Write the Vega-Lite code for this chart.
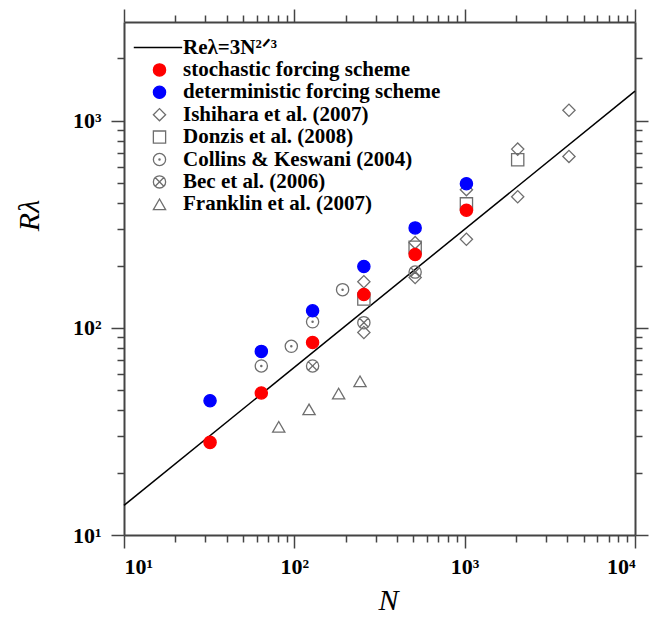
{
  "$schema": "https://vega.github.io/schema/vega-lite/v6.json",
  "width": 511,
  "height": 513,
  "autosize": "none",
  "padding": {"left": 124, "top": 22, "right": 19, "bottom": 83},
  "background": "white",
  "config": {
    "view": {"stroke": null},
    "axis": {
      "grid": false,
      "domainColor": "#444444",
      "domainWidth": 2,
      "tickColor": "#444444",
      "tickWidth": 1.5,
      "labelFont": "Liberation Serif",
      "labelFontWeight": "bold",
      "labelFontSize": 22,
      "labelColor": "black",
      "titleFont": "Liberation Serif",
      "titleFontStyle": "italic",
      "titleFontWeight": "normal",
      "titleFontSize": 30,
      "titleColor": "black"
    },
    "legend": {"labelLimit": 400}
  },
  "data": {
    "values": [
      {"series": "Reλ=3N²ᐟ³", "N": 10, "R": 13.9},
      {"series": "Reλ=3N²ᐟ³", "N": 10000, "R": 1390},
      {"series": "Ishihara et al. (2007)", "N": 256, "R": 167},
      {"series": "Ishihara et al. (2007)", "N": 256, "R": 95},
      {"series": "Ishihara et al. (2007)", "N": 512, "R": 258},
      {"series": "Ishihara et al. (2007)", "N": 512, "R": 175},
      {"series": "Ishihara et al. (2007)", "N": 1024, "R": 465},
      {"series": "Ishihara et al. (2007)", "N": 1024, "R": 268},
      {"series": "Ishihara et al. (2007)", "N": 2048, "R": 730},
      {"series": "Ishihara et al. (2007)", "N": 2048, "R": 430},
      {"series": "Ishihara et al. (2007)", "N": 4096, "R": 1125},
      {"series": "Ishihara et al. (2007)", "N": 4096, "R": 673},
      {"series": "Donzis et al. (2008)", "N": 256, "R": 138},
      {"series": "Donzis et al. (2008)", "N": 512, "R": 245},
      {"series": "Donzis et al. (2008)", "N": 1024, "R": 397},
      {"series": "Donzis et al. (2008)", "N": 2048, "R": 648},
      {"series": "Collins & Keswani (2004)", "N": 64, "R": 65.5},
      {"series": "Collins & Keswani (2004)", "N": 96, "R": 81.5},
      {"series": "Collins & Keswani (2004)", "N": 128, "R": 107},
      {"series": "Collins & Keswani (2004)", "N": 192, "R": 153},
      {"series": "Bec et al. (2006)", "N": 128, "R": 65.5},
      {"series": "Bec et al. (2006)", "N": 256, "R": 106},
      {"series": "Bec et al. (2006)", "N": 512, "R": 186},
      {"series": "Franklin et al. (2007)", "N": 81, "R": 33.3},
      {"series": "Franklin et al. (2007)", "N": 122, "R": 40.4},
      {"series": "Franklin et al. (2007)", "N": 182, "R": 48.2},
      {"series": "Franklin et al. (2007)", "N": 243, "R": 55.2},
      {"series": "stochastic forcing scheme", "N": 32, "R": 28},
      {"series": "stochastic forcing scheme", "N": 64, "R": 48.5},
      {"series": "stochastic forcing scheme", "N": 128, "R": 85},
      {"series": "stochastic forcing scheme", "N": 256, "R": 145},
      {"series": "stochastic forcing scheme", "N": 512, "R": 226},
      {"series": "stochastic forcing scheme", "N": 1024, "R": 370},
      {"series": "deterministic forcing scheme", "N": 32, "R": 44.5},
      {"series": "deterministic forcing scheme", "N": 64, "R": 77},
      {"series": "deterministic forcing scheme", "N": 128, "R": 121},
      {"series": "deterministic forcing scheme", "N": 256, "R": 198},
      {"series": "deterministic forcing scheme", "N": 512, "R": 304},
      {"series": "deterministic forcing scheme", "N": 1024, "R": 497}
    ]
  },
  "resolve": {"axis": {"x": "independent", "y": "independent"}},
  "layer": [
    {
      "transform": [{"filter": "datum.series === 'Reλ=3N²ᐟ³'"}],
      "mark": {"type": "line", "color": "black", "strokeWidth": 1.5},
      "encoding": {
        "x": {"field": "N", "type": "quantitative",
          "scale": {"type": "log", "domain": [10, 10000], "nice": false},
          "axis": {"orient": "bottom", "values": [10, 100, 1000, 10000], "tickSize": 13, "labelPadding": 8,
            "labelExpr": "datum.value === 10 ? '10¹' : datum.value === 100 ? '10²' : datum.value === 1000 ? '10³' : '10⁴'",
            "title": "N", "titleX": 264, "titleY": 74, "titleBaseline": "alphabetic"}},
        "y": {"field": "R", "type": "quantitative",
          "scale": {"type": "log", "domain": [10, 3000], "nice": false},
          "axis": {"orient": "left", "values": [10, 100, 1000], "tickSize": 13, "labelPadding": 10,
            "labelExpr": "datum.value === 10 ? '10¹' : datum.value === 100 ? '10²' : '10³'",
            "title": "Rλ", "titleX": -80, "titleY": 193}}
      }
    },
    {
      "transform": [{"filter": "datum.series !== 'Reλ=3N²ᐟ³'"}],
      "mark": {"type": "point", "opacity": 1, "size": 150, "strokeWidth": 1.3},
      "encoding": {
        "x": {"field": "N", "type": "quantitative",
          "scale": {"type": "log", "domain": [10, 10000], "nice": false},
          "axis": {"orient": "bottom", "values": [20, 30, 40, 50, 60, 70, 80, 90, 200, 300, 400, 500, 600, 700, 800, 900, 2000, 3000, 4000, 5000, 6000, 7000, 8000, 9000],
            "tickSize": 7, "labels": false, "domain": false, "title": null}},
        "y": {"field": "R", "type": "quantitative",
          "scale": {"type": "log", "domain": [10, 3000], "nice": false},
          "axis": {"orient": "left", "values": [20, 30, 40, 50, 60, 70, 80, 90, 200, 300, 400, 500, 600, 700, 800, 900, 2000],
            "tickSize": 7, "labels": false, "domain": false, "title": null}},
        "shape": {"field": "series", "type": "nominal",
          "scale": {
            "domain": ["Reλ=3N²ᐟ³", "stochastic forcing scheme", "deterministic forcing scheme", "Ishihara et al. (2007)", "Donzis et al. (2008)", "Collins & Keswani (2004)", "Bec et al. (2006)", "Franklin et al. (2007)"],
            "range": ["M-4.2,0L3.7,0", "circle", "circle", "diamond", "square",
              "M-1,0A1,1,0,1,0,1,0A1,1,0,1,0,-1,0M-0.1,0A0.1,0.1,0,1,0,0.1,0A0.1,0.1,0,1,0,-0.1,0",
              "M-1,0A1,1,0,1,0,1,0A1,1,0,1,0,-1,0M-0.7071,-0.7071L0.7071,0.7071M-0.7071,0.7071L0.7071,-0.7071",
              "triangle-up"]},
          "legend": {"title": null, "orient": "none", "legendX": 25, "legendY": 15, "padding": 0,
            "labelFont": "Liberation Serif", "labelFontWeight": "bold", "labelFontSize": 21, "labelColor": "black",
            "labelOffset": 13, "rowPadding": 0.4, "symbolSize": 150, "symbolStrokeWidth": 1.3, "labelLimit": 400}},
        "fill": {"field": "series", "type": "nominal",
          "scale": {
            "domain": ["Reλ=3N²ᐟ³", "stochastic forcing scheme", "deterministic forcing scheme", "Ishihara et al. (2007)", "Donzis et al. (2008)", "Collins & Keswani (2004)", "Bec et al. (2006)", "Franklin et al. (2007)"],
            "range": ["transparent", "#ff0000", "#0000ff", "transparent", "transparent", "transparent", "transparent", "transparent"]},
          "legend": {"title": null, "orient": "none", "legendX": 25, "legendY": 15, "padding": 0,
            "labelFont": "Liberation Serif", "labelFontWeight": "bold", "labelFontSize": 21, "labelColor": "black",
            "labelOffset": 13, "rowPadding": 0.4, "symbolSize": 150, "symbolStrokeWidth": 1.3, "labelLimit": 400}},
        "stroke": {"field": "series", "type": "nominal",
          "scale": {
            "domain": ["Reλ=3N²ᐟ³", "stochastic forcing scheme", "deterministic forcing scheme", "Ishihara et al. (2007)", "Donzis et al. (2008)", "Collins & Keswani (2004)", "Bec et al. (2006)", "Franklin et al. (2007)"],
            "range": ["black", "#ff0000", "#0000ff", "#6e6e6e", "#6e6e6e", "#6e6e6e", "#6e6e6e", "#6e6e6e"]},
          "legend": {"title": null, "orient": "none", "legendX": 25, "legendY": 15, "padding": 0,
            "labelFont": "Liberation Serif", "labelFontWeight": "bold", "labelFontSize": 21, "labelColor": "black",
            "labelOffset": 13, "rowPadding": 0.4, "symbolSize": 150, "symbolStrokeWidth": 1.3, "labelLimit": 400}}
      }
    },
    {
      "transform": [{"filter": "datum.series === 'Reλ=3N²ᐟ³'"}],
      "mark": {"type": "line", "strokeOpacity": 0},
      "encoding": {
        "x": {"field": "N", "type": "quantitative",
          "scale": {"type": "log", "domain": [10, 10000], "nice": false},
          "axis": {"orient": "top", "values": [10, 100, 1000, 10000], "tickSize": 13, "labels": false, "title": null}},
        "y": {"field": "R", "type": "quantitative",
          "scale": {"type": "log", "domain": [10, 3000], "nice": false},
          "axis": {"orient": "right", "values": [10, 100, 1000], "tickSize": 13, "labels": false, "title": null}}
      }
    },
    {
      "transform": [{"filter": "datum.series === 'Reλ=3N²ᐟ³'"}],
      "mark": {"type": "line", "strokeOpacity": 0},
      "encoding": {
        "x": {"field": "N", "type": "quantitative",
          "scale": {"type": "log", "domain": [10, 10000], "nice": false},
          "axis": {"orient": "top", "values": [20, 30, 40, 50, 60, 70, 80, 90, 200, 300, 400, 500, 600, 700, 800, 900, 2000, 3000, 4000, 5000, 6000, 7000, 8000, 9000],
            "tickSize": 7, "labels": false, "domain": false, "title": null}},
        "y": {"field": "R", "type": "quantitative",
          "scale": {"type": "log", "domain": [10, 3000], "nice": false},
          "axis": {"orient": "right", "values": [20, 30, 40, 50, 60, 70, 80, 90, 200, 300, 400, 500, 600, 700, 800, 900, 2000],
            "tickSize": 7, "labels": false, "domain": false, "title": null}}
      }
    }
  ]
}
